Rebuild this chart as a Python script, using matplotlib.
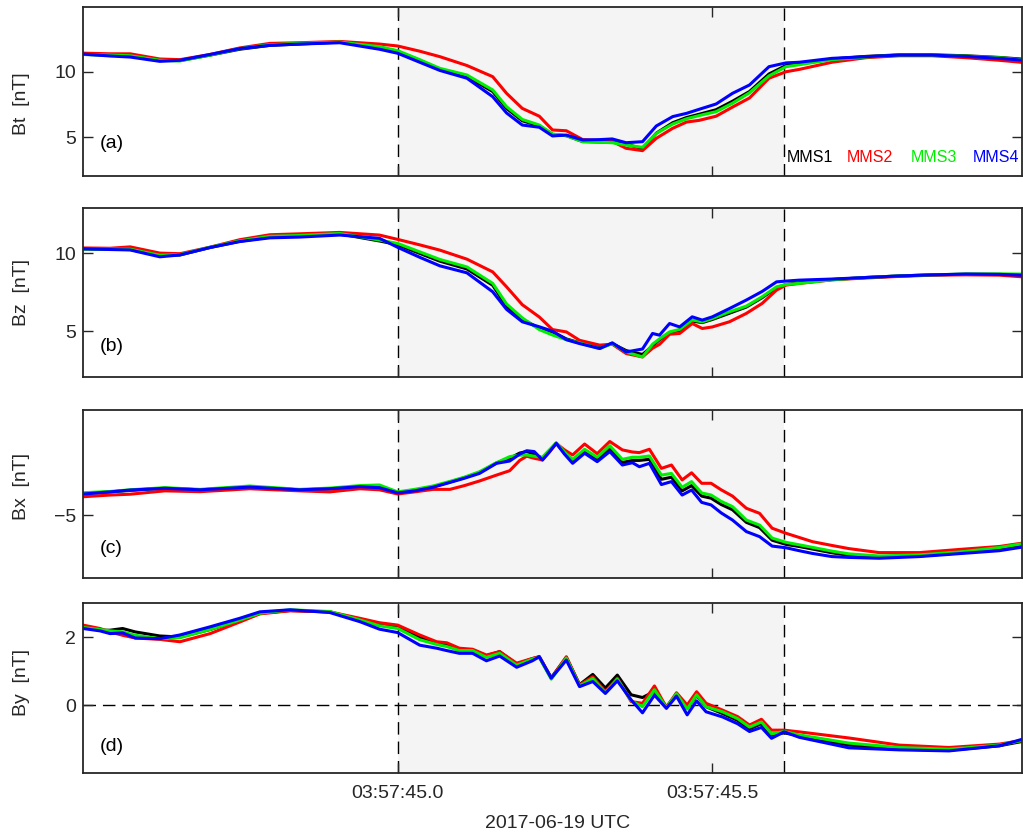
import matplotlib
matplotlib.use("Agg")
import matplotlib.pyplot as plt
from matplotlib.ticker import FixedLocator, FuncFormatter

plt.rcParams['font.family'] = ['Liberation Sans', 'DejaVu Sans']

# ---------------- data (seconds after 03:57:00 UTC, 2017-06-19) ----------------
t_a = [44.500, 44.543, 44.575, 44.622, 44.654, 44.702, 44.749, 44.797, 44.844, 44.908,
       44.971, 45.000, 45.035, 45.067, 45.110, 45.151, 45.173, 45.198, 45.225, 45.246,
       45.268, 45.294, 45.321, 45.341, 45.363, 45.389, 45.411, 45.437, 45.459, 45.479,
       45.506, 45.532, 45.559, 45.590, 45.617, 45.638, 45.690, 45.744, 45.797, 45.849,
       45.903, 45.956, 45.990]
bt_mms1 = [11.35, 11.3, 11.25, 10.88, 10.88, 11.3, 11.75, 12.05, 12.15, 12.3,
           11.9, 11.58, 10.9, 10.2, 9.65, 8.5, 7.2, 6.25, 5.85, 5.2,
           5.1, 4.65, 4.62, 4.6, 4.45, 4.1, 5.3, 6.1, 6.5, 6.75,
           7.1, 7.75, 8.5, 9.85, 10.5, 10.62, 11.0, 11.2, 11.32, 11.32,
           11.25, 11.12, 11.0]
bt_mms2 = [11.45, 11.4, 11.4, 11.0, 10.95, 11.35, 11.85, 12.2, 12.25, 12.35,
           12.15, 12.0, 11.6, 11.18, 10.5, 9.64, 8.36, 7.2, 6.6, 5.54,
           5.48, 4.8, 4.72, 4.66, 4.13, 3.95, 4.9, 5.67, 6.15, 6.28,
           6.6, 7.3, 8.0, 9.52, 10.02, 10.2, 10.75, 11.1, 11.25, 11.25,
           11.1, 10.9, 10.75]
bt_mms3 = [11.35, 11.3, 11.25, 10.9, 10.85, 11.3, 11.8, 12.1, 12.2, 12.3,
           11.95, 11.64, 10.95, 10.28, 9.77, 8.62, 7.33, 6.35, 5.92, 5.23,
           5.1, 4.64, 4.6, 4.56, 4.38, 4.21, 5.28, 6.0, 6.4, 6.65,
           6.95, 7.6, 8.4, 9.7, 10.41, 10.56, 10.95, 11.15, 11.3, 11.3,
           11.22, 11.1, 10.95]
bt_mms4 = [11.38, 11.23, 11.15, 10.82, 10.9, 11.35, 11.8, 12.05, 12.15, 12.25,
           11.75, 11.44, 10.75, 10.12, 9.52, 8.1, 6.85, 5.92, 5.75, 5.08,
           5.15, 4.77, 4.8, 4.85, 4.56, 4.64, 5.85, 6.57, 6.82, 7.13,
           7.54, 8.36, 9.0, 10.41, 10.7, 10.75, 11.05, 11.18, 11.3, 11.3,
           11.2, 11.05, 10.92]

t_b = [44.500, 44.543, 44.575, 44.622, 44.654, 44.702, 44.749, 44.797, 44.844, 44.908,
       44.971, 45.000, 45.035, 45.067, 45.110, 45.151, 45.173, 45.198, 45.225, 45.246,
       45.268, 45.289, 45.321, 45.341, 45.363, 45.389, 45.405, 45.416, 45.432, 45.448,
       45.468, 45.484, 45.500, 45.527, 45.554, 45.579, 45.602, 45.617, 45.638, 45.690,
       45.744, 45.797, 45.849, 45.903, 45.956, 45.990]
bz_mms1 = [10.28, 10.26, 10.25, 9.85, 9.9, 10.38, 10.78, 11.05, 11.12, 11.25,
           10.8, 10.56, 10.0, 9.5, 9.0, 7.95, 6.6, 5.75, 5.2, 4.95,
           4.5, 4.25, 3.95, 4.2, 3.75, 3.5, 4.05, 4.45, 4.9, 5.05,
           5.65, 5.55, 5.75, 6.15, 6.55, 7.15, 7.8, 8.0, 8.1, 8.32,
           8.45, 8.55, 8.62, 8.66, 8.65, 8.63]
bz_mms2 = [10.35, 10.33, 10.42, 10.02, 9.98, 10.4, 10.88, 11.2, 11.26, 11.35,
           11.18, 10.9, 10.55, 10.21, 9.63, 8.81, 7.85, 6.7, 5.91, 5.1,
           4.95, 4.41, 4.1, 4.16, 3.56, 3.34, 3.9, 4.15, 4.8, 4.85,
           5.49, 5.17, 5.27, 5.6, 6.14, 6.78, 7.64, 7.96, 8.07, 8.3,
           8.42, 8.52, 8.6, 8.62, 8.6, 8.5]
bz_mms3 = [10.28, 10.27, 10.27, 9.88, 9.92, 10.4, 10.8, 11.1, 11.15, 11.28,
           10.86, 10.64, 10.1, 9.61, 9.13, 8.07, 6.75, 5.85, 5.1, 4.75,
           4.45, 4.24, 3.88, 4.2, 3.66, 3.34, 4.16, 4.5, 4.95, 5.11,
           5.71, 5.6, 5.81, 6.24, 6.61, 7.21, 7.85, 8.0, 8.07, 8.3,
           8.45, 8.55, 8.62, 8.67, 8.68, 8.67]
bz_mms4 = [10.3, 10.25, 10.22, 9.78, 9.9, 10.38, 10.76, 11.0, 11.05, 11.18,
           10.97, 10.39, 9.75, 9.2, 8.75, 7.53, 6.4, 5.6, 5.28, 5.0,
           4.45, 4.2, 3.88, 4.25, 3.66, 3.85, 4.85, 4.74, 5.49, 5.27,
           5.92, 5.71, 5.92, 6.45, 7.0, 7.55, 8.17, 8.22, 8.28, 8.35,
           8.45, 8.55, 8.62, 8.67, 8.65, 8.6]

t_c = [44.500, 44.543, 44.575, 44.630, 44.686, 44.765, 44.844, 44.892, 44.940, 44.971,
       45.000, 45.027, 45.056, 45.083, 45.106, 45.130, 45.157, 45.178, 45.194, 45.205,
       45.217, 45.230, 45.241, 45.252, 45.265, 45.278, 45.297, 45.317, 45.337, 45.357,
       45.373, 45.384, 45.400, 45.419, 45.435, 45.452, 45.467, 45.483, 45.498, 45.514,
       45.532, 45.554, 45.575, 45.595, 45.617, 45.638, 45.659, 45.690, 45.717, 45.765,
       45.829, 45.897, 45.956, 45.990]
bx_mms1 = [-3.98, -3.9, -3.83, -3.72, -3.8, -3.67, -3.8, -3.76, -3.65, -3.65,
           -3.93, -3.82, -3.66, -3.43, -3.22, -2.98, -2.52, -2.3, -2.05, -1.98,
           -2.1, -2.3, -1.95, -1.58, -2.05, -2.45, -1.95, -2.35, -1.85, -2.5,
           -2.4, -2.4, -2.35, -3.3, -3.2, -3.85, -3.6, -4.1, -4.2, -4.5,
           -4.75, -5.35, -5.6, -6.2, -6.4, -6.5, -6.62, -6.8, -6.92, -7.0,
           -6.95, -6.8, -6.6, -6.45]
bx_mms2 = [-4.13, -4.05, -4.01, -3.85, -3.89, -3.75, -3.85, -3.9, -3.75, -3.8,
           -4.0, -3.9, -3.78, -3.78, -3.6, -3.38, -3.1, -2.89, -2.4, -2.2,
           -2.3, -2.38, -2.0, -1.59, -1.9, -2.14, -1.62, -2.08, -1.5, -1.9,
           -2.0, -2.03, -1.87, -2.78, -2.62, -3.33, -2.99, -3.49, -3.49, -3.8,
           -4.1, -4.68, -4.92, -5.63, -5.87, -6.07, -6.27, -6.45, -6.6, -6.79,
           -6.79, -6.63, -6.5, -6.35]
bx_mms3 = [-3.94, -3.88, -3.8, -3.7, -3.78, -3.62, -3.78, -3.72, -3.6, -3.57,
           -3.9, -3.78, -3.62, -3.4, -3.2, -2.94, -2.51, -2.22, -2.15, -2.14,
           -2.2, -2.25, -1.9, -1.56, -2.0, -2.35, -1.87, -2.25, -1.7, -2.35,
           -2.25, -2.25, -2.19, -3.1, -3.02, -3.68, -3.41, -3.95, -4.05, -4.35,
           -4.6, -5.24, -5.48, -6.1, -6.3, -6.42, -6.54, -6.72, -6.85, -6.95,
           -6.9, -6.75, -6.55, -6.38]
bx_mms4 = [-4.0, -3.9, -3.81, -3.73, -3.8, -3.67, -3.8, -3.75, -3.65, -3.7,
           -3.95, -3.85, -3.68, -3.45, -3.25, -3.02, -2.54, -2.43, -2.1, -1.94,
           -1.98, -2.38, -2.0, -1.59, -2.1, -2.54, -2.06, -2.46, -1.98, -2.62,
           -2.51, -2.7, -2.54, -3.55, -3.41, -4.05, -3.81, -4.4, -4.52, -4.9,
           -5.24, -5.79, -6.03, -6.48, -6.56, -6.7, -6.83, -6.98, -7.02, -7.06,
           -6.98, -6.83, -6.7, -6.54]

t_d = [44.500, 44.527, 44.543, 44.563, 44.583, 44.622, 44.654, 44.702, 44.749, 44.781,
       44.829, 44.892, 44.940, 44.971, 45.000, 45.035, 45.062, 45.078, 45.098, 45.119,
       45.141, 45.162, 45.189, 45.214, 45.225, 45.244, 45.268, 45.289, 45.310, 45.330,
       45.349, 45.371, 45.389, 45.408, 45.427, 45.443, 45.460, 45.475, 45.490, 45.516,
       45.540, 45.559, 45.578, 45.594, 45.614, 45.638, 45.717, 45.797, 45.876, 45.956,
       45.990]
by_mms1 = [2.28, 2.2, 2.2, 2.25, 2.15, 2.03, 2.0, 2.22, 2.5, 2.7,
           2.78, 2.74, 2.5, 2.35, 2.28, 1.98, 1.82, 1.78, 1.63, 1.62,
           1.45, 1.57, 1.2, 1.36, 1.42, 0.8, 1.4, 0.6, 0.9, 0.5,
           0.88, 0.3, 0.22, 0.4, -0.05, 0.3, -0.1, 0.28, -0.05, -0.25,
           -0.45, -0.7, -0.55, -0.88, -0.82, -0.9, -1.18, -1.3, -1.33, -1.2,
           -1.08]
by_mms2 = [2.35, 2.25, 2.15, 2.05, 1.97, 1.93, 1.86, 2.1, 2.44, 2.68,
           2.77, 2.74, 2.55, 2.42, 2.35, 2.06, 1.86, 1.83, 1.67, 1.64,
           1.47, 1.57, 1.23, 1.37, 1.42, 0.79, 1.42, 0.59, 0.83, 0.39,
           0.79, 0.1, 0.05, 0.56, -0.07, 0.36, 0.0, 0.39, 0.05, -0.15,
           -0.34, -0.59, -0.42, -0.74, -0.74, -0.79, -0.97, -1.18, -1.25, -1.15,
           -1.05]
by_mms3 = [2.28, 2.22, 2.18, 2.15, 2.05, 1.95, 1.98, 2.22, 2.5, 2.7,
           2.8, 2.75, 2.5, 2.33, 2.25, 1.92, 1.78, 1.72, 1.6, 1.6,
           1.4, 1.52, 1.17, 1.35, 1.4, 0.76, 1.38, 0.56, 0.78, 0.36,
           0.76, 0.12, -0.05, 0.45, -0.08, 0.33, -0.12, 0.3, -0.05, -0.2,
           -0.4, -0.65, -0.5, -0.85, -0.78, -0.88, -1.12, -1.25, -1.3, -1.18,
           -1.05]
by_mms4 = [2.25, 2.18, 2.1, 2.12, 1.97, 1.95, 2.06, 2.3, 2.55, 2.74,
           2.8, 2.72, 2.45, 2.23, 2.13, 1.76, 1.67, 1.6, 1.52, 1.52,
           1.3, 1.44, 1.11, 1.3, 1.42, 0.79, 1.32, 0.54, 0.69, 0.34,
           0.71, 0.15, -0.23, 0.29, -0.1, 0.26, -0.29, 0.12, -0.2, -0.35,
           -0.55, -0.78, -0.66, -0.98, -0.79, -0.95, -1.26, -1.32, -1.35, -1.2,
           -1.02]

spacecraft = ['MMS1', 'MMS2', 'MMS3', 'MMS4']
sc_colors = ['#000000', '#ff0000', '#00ee00', '#0000ff']
interval = [45.0, 45.614]
x_ticks = [45.0, 45.5]
x_range = [44.5, 45.992]

panels = [
    dict(t=t_a, series=[bt_mms1, bt_mms2, bt_mms3, bt_mms4], ylabel='Bt  [nT]',
         ylim=(2, 15), yticks=[5, 10], tag='(a)'),
    dict(t=t_b, series=[bz_mms1, bz_mms2, bz_mms3, bz_mms4], ylabel='Bz  [nT]',
         ylim=(2.05, 12.92), yticks=[5, 10], tag='(b)'),
    dict(t=t_c, series=[bx_mms1, bx_mms2, bx_mms3, bx_mms4], ylabel='Bx  [nT]',
         ylim=(-8, 0), yticks=[-5], tag='(c)'),
    dict(t=t_d, series=[by_mms1, by_mms2, by_mms3, by_mms4], ylabel='By  [nT]',
         ylim=(-2, 3), yticks=[0, 2], tag='(d)'),
]

# ---------------- layout (pixel boxes of the reference) ----------------
W, H = 1023, 836
fig = plt.figure(figsize=(W / 100, H / 100), dpi=100, facecolor='white')
boxes = [(7, 176), (208, 377), (410, 578), (603, 773)]
label_y = [104, 293, 487, 683]
tag_y = [0.195, 0.178, 0.173, 0.153]
left_px, right_px = 83, 1022
dark = '#262626'
fs = 14

for i, (p, (top, bot)) in enumerate(zip(panels, boxes)):
    ax = fig.add_axes([left_px / W, 1 - bot / H, (right_px - left_px) / W, (bot - top) / H])
    ax.axvspan(interval[0], interval[1], color='#f4f4f4', lw=0, zorder=0)
    for xv in interval:
        ax.axvline(xv, color='black', lw=1.0, ls=(0, (9, 5)), zorder=1)
    if i == 3:
        ax.axhline(0, color='black', lw=1.0, ls=(0, (9, 5)), zorder=1)
    for s, c in zip(p['series'], sc_colors):
        ax.plot(p['t'], s, color=c, lw=2.2, zorder=3, solid_joinstyle='round')
    ax.set_xlim(*x_range)
    ax.set_ylim(*p['ylim'])
    ax.yaxis.set_major_locator(FixedLocator(p['yticks']))
    ax.xaxis.set_major_locator(FixedLocator(x_ticks))
    ax.tick_params(direction='in', length=7, width=1.0, top=True, right=True,
                   labelsize=fs, colors=dark, pad=5)
    ax.tick_params(axis='x', pad=9)
    for sp in ax.spines.values():
        sp.set_color(dark)
        sp.set_linewidth(1.3)
        sp.set_zorder(5)
    if i == 3:
        ax.xaxis.set_major_formatter(FuncFormatter(lambda v, pos: '03:57:%04.1f' % v))
    else:
        ax.set_xticklabels([])
    ax.text(0.018, tag_y[i], p['tag'], transform=ax.transAxes, fontsize=fs,
            color='black', ha='left', va='center')
    fig.text(22 / W, 1 - label_y[i] / H, p['ylabel'], rotation=90, fontsize=fs,
             color=dark, ha='center', va='center')
    if i == 0:
        for name, c, xf in zip(spacecraft, sc_colors, [0.7497, 0.8135, 0.8815, 0.9480]):
            ax.text(xf, 0.107, name, transform=ax.transAxes, fontsize=11.5,
                    color=c, ha='left', va='center', zorder=6)

fig.text(558 / W, 1 - 823 / H, '2017-06-19 UTC', fontsize=fs, color=dark,
         ha='center', va='center')

fig.savefig('out.png', dpi=100, facecolor='white')
